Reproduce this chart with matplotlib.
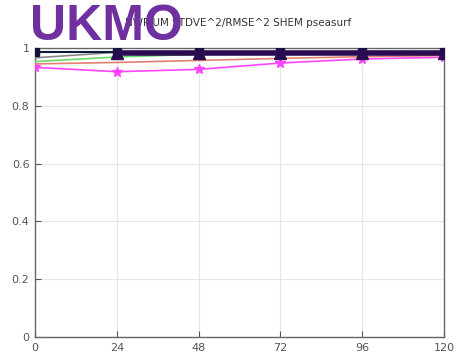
import matplotlib
matplotlib.use("Agg")
import matplotlib.pyplot as plt

# forecast lead times (hours)
lead = [0, 24, 48, 72, 96, 120]

# STDVE^2/RMSE^2 per series
s_navy = [0.986, 0.986, 0.986, 0.986, 0.986, 0.986]
s_gray = [0.966, 0.985, 0.986, 0.986, 0.986, 0.986]
s_green = [0.953, 0.969, 0.978, 0.981, 0.982, 0.983]
s_red = [0.945, 0.950, 0.957, 0.964, 0.970, 0.974]
s_magenta = [0.933, 0.918, 0.926, 0.948, 0.962, 0.968]
s_purple = [None, 0.983, 0.983, 0.983, 0.983, 0.983]

xticks = [0, 24, 48, 72, 96, 120]
yticks = [0, 0.2, 0.4, 0.6, 0.8, 1]
ylabels = ["0", "0.2", "0.4", "0.6", "0.8", "1"]

fig = plt.figure(figsize=(4.62, 3.55), dpi=100)
ax = fig.add_axes([35 / 462, 18 / 355, 409 / 462, 289 / 355])

ax.plot(lead, s_magenta, color="#ff44ff", lw=1.2, marker="*", ms=7, zorder=3)
ax.plot(lead, s_red, color="#e08070", lw=1.2, zorder=3)
ax.plot(lead, s_green, color="#66dd66", lw=1.2, zorder=3)
ax.plot(lead, s_gray, color="#888888", lw=1.2, zorder=3)
ax.plot(lead, s_navy, color="#101838", lw=1.5, marker="s", ms=6, zorder=4)
ax.plot(lead[1:], s_purple[1:], color="#2a0a50", lw=4, marker="^", ms=8, zorder=5)

ax.set_xlim(0, 120)
ax.set_ylim(0, 1)
ax.set_xticks(xticks)
ax.set_xticklabels([str(t) for t in xticks])
ax.set_yticks(yticks)
ax.set_yticklabels(ylabels)
ax.grid(True, color="#e6e6e6", lw=0.8)
ax.tick_params(labelsize=8, colors="#555555", length=4, direction="in", pad=4)
for s in ax.spines.values():
    s.set_color("#666666")
    s.set_linewidth(1.0)

fig.text(0.515, 0.935, "NWP UM STDVE^2/RMSE^2 SHEM pseasurf", ha="center",
         va="center", fontsize=7.5, color="#333333")
fig.text(30 / 462, 0.925, "UKMO", ha="left", va="center", fontsize=36,
         fontweight="bold", color="#7030a0", family="Liberation Sans")

fig.savefig("out.png", dpi=100)
